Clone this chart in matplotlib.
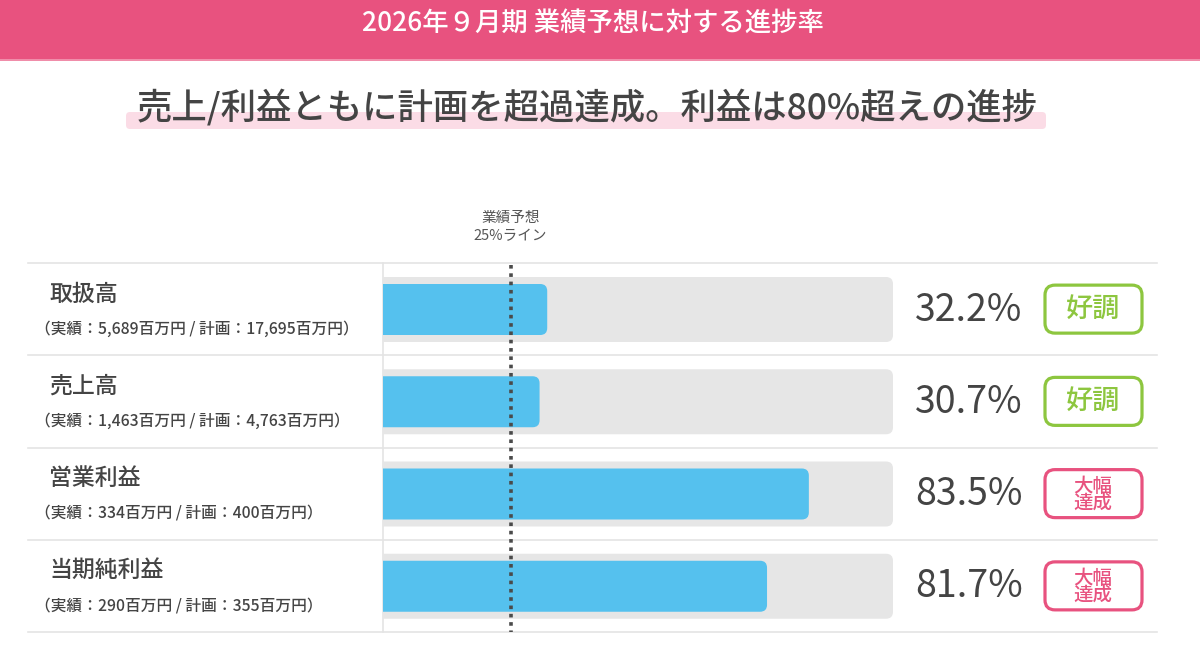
import matplotlib
matplotlib.use("Agg")
import matplotlib.pyplot as plt
from matplotlib.patches import FancyBboxPatch, Rectangle

plt.rcParams['font.family'] = ['Noto Sans CJK JP', 'DejaVu Sans']

# data
HEADER = "2026年９月期 業績予想に対する進捗率"
TITLE = "売上/利益ともに計画を超過達成。利益は80%超えの進捗"
names = ["取扱高", "売上高", "営業利益", "当期純利益"]
actual = ["5,689", "1,463", "334", "290"]
plan = ["17,695", "4,763", "400", "355"]
rate_labels = [32.2, 30.7, 83.5, 81.7]
bar_pct = [32.2, 30.7, 83.5, 75.3]   # bar lengths as drawn in the source
badges = ["好調", "好調", "大幅\n達成", "大幅\n達成"]
badge_kind = ["good", "good", "great", "great"]
target_line = 25

PINK = "#E8527F"
GREEN = "#8DC63F"
BLUE = "#55C1EE"
TRACK = "#E6E6E6"
TXT = "#444444"
GRID = "#E4E4E4"

W, H = 1200, 666
ROW_TOP, ROW_BOT = 263, 632
BAR_L, BAR_R = 383, 893
row_h = (ROW_BOT - ROW_TOP) / len(names)

fig = plt.figure(figsize=(12, 6.66), dpi=100)
bg = fig.add_axes([0, 0, 1, 1])
bg.set_xlim(0, W)
bg.set_ylim(H, 0)
bg.axis('off')

# header band
bg.add_patch(Rectangle((0, 0), W, 60, color=PINK, lw=0))
bg.add_patch(Rectangle((0, 59), W, 2, color="#F08DAA", lw=0))
bg.text(593, 23, HEADER, color="white", fontsize=19, ha="center", va="center",
        fontweight="medium")

# title with highlight
bg.add_patch(FancyBboxPatch((126, 112), 920, 17, boxstyle="round,pad=0,rounding_size=4",
                            color="#FBDCE6", lw=0))
bg.text(587, 108, TITLE, color=TXT, fontsize=25.5, ha="center", va="center",
        fontweight="medium")

# target line label
bg.text(BAR_L + (BAR_R - BAR_L) * target_line / 100, 227, "業績予想\n25%ライン",
        color="#555555", fontsize=10.5, ha="center", va="center", linespacing=1.3)

# row grid
for i in range(len(names) + 1):
    y = ROW_TOP + i * row_h
    bg.plot([28, 1157], [y, y], color=GRID, lw=1.2)
bg.plot([BAR_L, BAR_L], [ROW_TOP, ROW_BOT], color=GRID, lw=1.2)

for i, name in enumerate(names):
    top = ROW_TOP + i * row_h
    mid = top + row_h / 2
    bg.text(49, top + 31, name, color=TXT, fontsize=16.5, ha="left", va="center",
            fontweight="medium")
    bg.text(35, top + 66, f"（実績：{actual[i]}百万円 / 計画：{plan[i]}百万円）",
            color=TXT, fontsize=11.3, ha="left", va="center", fontweight="medium")
    bg.text(915, mid + 1, f"{rate_labels[i]:.1f}%", color=TXT, fontsize=27,
            ha="left", va="center")
    col = GREEN if badge_kind[i] == "good" else PINK
    bg.add_patch(FancyBboxPatch((1045, mid - 24), 97, 48,
                                boxstyle="round,pad=0,rounding_size=10",
                                fc="white", ec=col, lw=2.3))
    if badge_kind[i] == "good":
        bg.text(1093, mid, badges[i], color=col, fontsize=19.5, ha="center",
                va="center", fontweight="medium")
    else:
        bg.text(1093, mid + 1, badges[i], color=col, fontsize=14, ha="center",
                va="center", linespacing=0.88, fontweight="medium")

# bars
ax = fig.add_axes([BAR_L / W, 1 - ROW_BOT / H, (BAR_R - BAR_L) / W, (ROW_BOT - ROW_TOP) / H])
ax.set_xlim(0, 100)
ax.set_ylim(len(names), 0)
ax.axis('off')
asp = ((BAR_R - BAR_L) / 100) / row_h
r = 7 / ((BAR_R - BAR_L) / 100)
trk_off, trk_h = 14 / row_h, 65 / row_h
bar_off, bar_h = 21 / row_h, 51 / row_h
for i, v in enumerate(bar_pct):
    ax.add_patch(FancyBboxPatch((-5, i + trk_off), 105, trk_h,
                                boxstyle=f"round,pad=0,rounding_size={r}",
                                mutation_aspect=asp, fc=TRACK, ec="none"))
    ax.add_patch(FancyBboxPatch((-5, i + bar_off), v + 5, bar_h,
                                boxstyle=f"round,pad=0,rounding_size={r}",
                                mutation_aspect=asp, fc=BLUE, ec="none"))
ax.plot([target_line, target_line], [0.02, len(names)], color="#4A4A4A", lw=2.6,
        linestyle=(0, (1, 1.3)), zorder=5)

fig.savefig("out.png", dpi=100)
